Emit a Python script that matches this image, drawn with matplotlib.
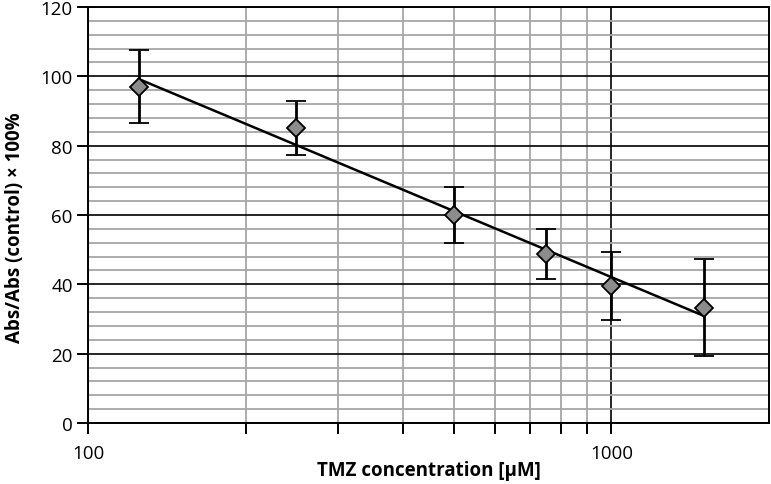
import numpy as np
import matplotlib.pyplot as plt
from matplotlib.ticker import FixedLocator, NullFormatter

plt.rcParams['font.family'] = ['Open Sans', 'DejaVu Sans']

# data
conc = [125, 250, 500, 750, 1000, 1500]
viability = [97.0, 85.0, 60.0, 48.7, 39.6, 33.2]
err = [10.6, 7.8, 8.0, 7.3, 9.8, 14.0]

fig = plt.figure(figsize=(7.71, 4.85), dpi=100)
ax = fig.add_axes([88 / 771, 1 - 424 / 485, (769 - 88) / 771, (424 - 8) / 485])

ax.set_xscale('log')
ax.set_xlim(100, 2000)
ax.set_ylim(0, 120)

# grid
ax.xaxis.set_major_locator(FixedLocator([100, 1000]))
ax.xaxis.set_minor_locator(FixedLocator([200, 300, 400, 500, 600, 700, 800, 900]))
ax.xaxis.set_minor_formatter(NullFormatter())
ax.set_xticklabels(['100', '1000'])
ax.set_yticks(np.arange(0, 121, 20))
ax.set_yticks(np.arange(0, 121, 4), minor=True)
ax.grid(which='minor', color='#a6a6a6', lw=1.3)
ax.grid(which='major', color='black', lw=1.2)
ax.set_axisbelow(True)

# logarithmic trend line
b, a = np.polyfit(np.log10(conc), viability, 1)
xs = np.array([conc[0], conc[-1]])
ax.plot(xs, a + b * np.log10(xs), color='black', lw=1.8, zorder=3)

ax.errorbar(conc, viability, yerr=err, fmt='D', ms=9, mfc='#8c8c8c', mec='black',
            mew=1.3, ecolor='black', elinewidth=2, capsize=7, capthick=2, zorder=4)

for s in ax.spines.values():
    s.set_color('black')
    s.set_linewidth(1.4)

ax.tick_params(which='both', direction='out', length=8, width=1.4, colors='black',
               labelsize=13.5)
ax.tick_params(axis='x', which='major', pad=7)
ax.tick_params(axis='y', which='minor', length=0)
ax.tick_params(axis='y', pad=3)

ax.set_xlabel('TMZ concentration [\u03bcM]', fontsize=13.5, fontweight='bold', va='center')
ax.xaxis.set_label_coords(0.5, -(471 - 424) / 416)
ax.set_ylabel('Abs/Abs (control) \u00d7 100%', fontsize=13.5, fontweight='bold', va='center')
ax.yaxis.set_label_coords(-(88 - 15) / 681, (424 - 228) / 416)

fig.savefig('out.png', dpi=100)
